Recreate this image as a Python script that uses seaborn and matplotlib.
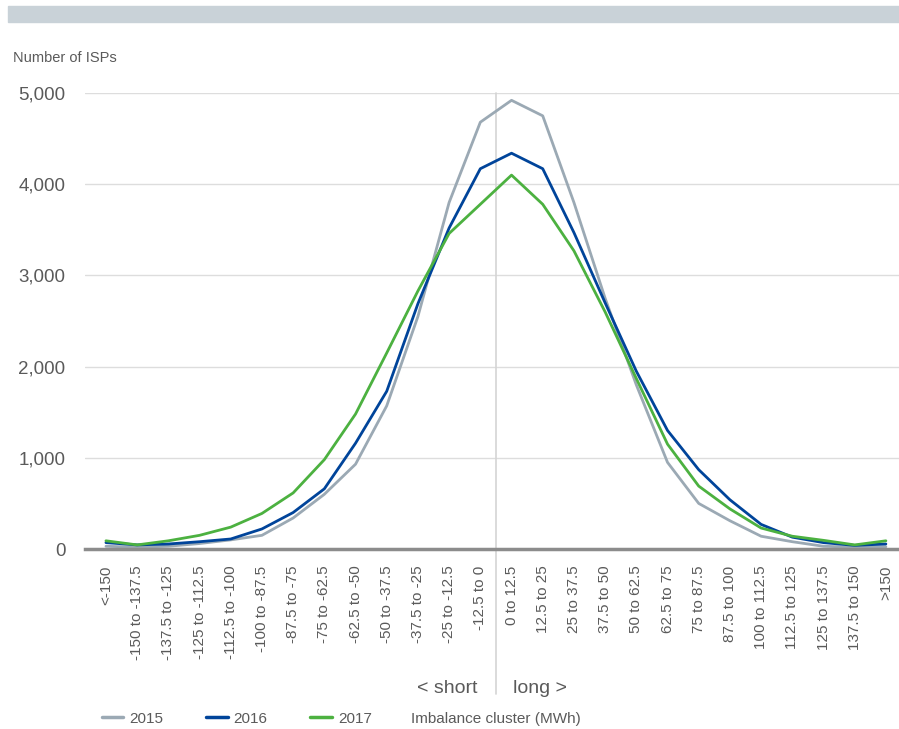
import numpy as np
import pandas as pd
import matplotlib
matplotlib.use("Agg")
import matplotlib.pyplot as plt
import matplotlib.transforms as mtransforms
from matplotlib.patches import Rectangle
from matplotlib.lines import Line2D
import seaborn as sns

# Imbalance clusters (MWh)
clusters = ["<-150", "-150 to -137.5", "-137.5 to -125", "-125 to -112.5",
            "-112.5 to -100", "-100 to -87.5", "-87.5 to -75", "-75 to -62.5",
            "-62.5 to -50", "-50 to -37.5", "-37.5 to -25", "-25 to -12.5",
            "-12.5 to 0", "0 to 12.5", "12.5 to 25", "25 to 37.5", "37.5 to 50",
            "50 to 62.5", "62.5 to 75", "75 to 87.5", "87.5 to 100",
            "100 to 112.5", "112.5 to 125", "125 to 137.5", "137.5 to 150", ">150"]

# Number of ISPs per cluster
isp_2015 = [30, 20, 30, 60, 100, 150, 340, 600, 930, 1570, 2550, 3800, 4680,
            4920, 4750, 3800, 2750, 1800, 950, 500, 310, 140, 80, 30, 20, 25]
isp_2016 = [70, 45, 55, 80, 110, 220, 400, 660, 1160, 1730, 2690, 3520, 4170,
            4340, 4170, 3470, 2700, 1950, 1300, 870, 540, 270, 130, 70, 40, 55]
isp_2017 = [90, 45, 90, 150, 240, 390, 615, 980, 1480, 2150, 2830, 3460, 3780,
            4100, 3780, 3270, 2600, 1870, 1150, 690, 440, 230, 140, 95, 45, 90]

years = ["2015", "2016", "2017"]
colors = {"2015": "#9ba9b4", "2016": "#00449a", "2017": "#4cb140"}

# long format for seaborn
pos = np.arange(len(clusters))
df = pd.concat([
    pd.DataFrame({"pos": pos, "cluster": clusters, "isps": vals, "year": yr})
    for yr, vals in zip(years, [isp_2015, isp_2016, isp_2017])
])

sns.set_style("white")
plt.rcParams["font.family"] = ["Liberation Sans", "DejaVu Sans"]
text_col = "#5a5a5a"

fig = plt.figure(figsize=(8.99, 7.29), dpi=100)
ax = fig.add_axes([0.0946, 0.2469, 0.9054, 0.6255])

sns.lineplot(data=df, x="pos", y="isps", hue="year", palette=colors,
             linewidth=2.0, ax=ax, legend=False, zorder=3)

ax.set_xlim(-0.67, 25.42)
ax.set_ylim(0, 5000)
ax.set_yticks([0, 1000, 2000, 3000, 4000, 5000])
ax.set_yticklabels(["0", "1,000", "2,000", "3,000", "4,000", "5,000"],
                   fontsize=13.5, color=text_col)
ax.set_xticks(pos)
ax.set_xticklabels(clusters, rotation=90, fontsize=11, color=text_col)
ax.tick_params(axis="y", length=0, pad=14)
ax.tick_params(axis="x", length=0, pad=12)
ax.set_xlabel("")
ax.set_ylabel("")

ax.grid(axis="y", color="#dddddd", linewidth=1)
ax.grid(axis="x", visible=False)
for s in ["top", "right", "left"]:
    ax.spines[s].set_visible(False)
ax.spines["bottom"].set_color("#8c8c8c")
ax.spines["bottom"].set_linewidth(2.5)
ax.spines["bottom"].set_zorder(4)

# short / long divider
trans = mtransforms.blended_transform_factory(ax.transData, ax.transAxes)
ax.plot([12.5, 12.5], [-0.318, 1.0], transform=trans, color="#d4d4d4",
        linewidth=1.2, clip_on=False, zorder=1)
ax.text(11.92, -0.305, "< short", transform=trans, ha="right", va="center",
        fontsize=14, color=text_col)
ax.text(13.04, -0.305, "long >", transform=trans, ha="left", va="center",
        fontsize=14, color=text_col)

# header bar and axis title
fig.patches.append(Rectangle((0.0089, 0.9698), 0.9911, 0.022,
                             transform=fig.transFigure, color="#c9d2d8",
                             zorder=0))
fig.text(0.0145, 0.921, "Number of ISPs", fontsize=10.5, color=text_col,
         ha="left", va="center")

# legend
handles = [Line2D([0], [0], color=colors[y], linewidth=2.5) for y in years]
fig.legend(handles, years, loc="center left", bbox_to_anchor=(0.098, 0.014),
           ncol=3, frameon=False, fontsize=11, handlelength=1.4,
           handletextpad=0.4, columnspacing=2.8, labelcolor=text_col)
fig.text(0.457, 0.014, "Imbalance cluster (MWh)", fontsize=11,
         color=text_col, ha="left", va="center")

fig.savefig("out.png", dpi=100)
